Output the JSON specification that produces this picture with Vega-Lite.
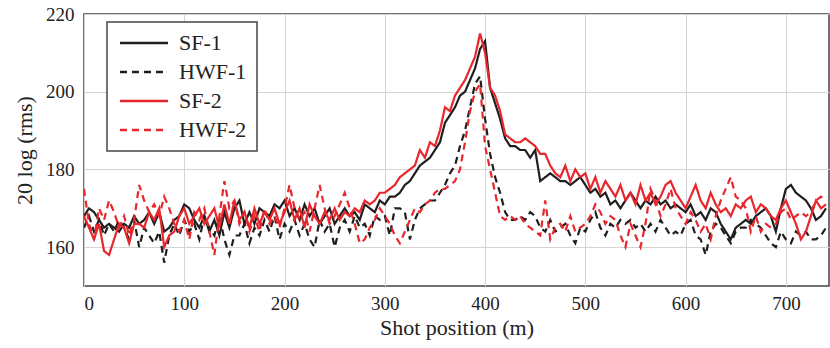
{
"$schema": "https://vega.github.io/schema/vega-lite/v6.json",
"width": 745, "height": 272,
"autosize": {"type": "none"},
"padding": {"left": 84, "top": 14, "right": 1, "bottom": 62},
"background": "white",
"data": {"values": [
{"x":0,"SF-1":168,"HWF-1":165,"SF-2":168,"HWF-2":175},
{"x":5,"SF-1":170,"HWF-1":168,"SF-2":165,"HWF-2":166},
{"x":10,"SF-1":169,"HWF-1":164,"SF-2":162,"HWF-2":162},
{"x":15,"SF-1":167,"HWF-1":167,"SF-2":166,"HWF-2":170},
{"x":20,"SF-1":165,"HWF-1":163,"SF-2":159,"HWF-2":167},
{"x":25,"SF-1":166,"HWF-1":166,"SF-2":158,"HWF-2":172},
{"x":30,"SF-1":165,"HWF-1":164,"SF-2":162,"HWF-2":169},
{"x":35,"SF-1":164,"HWF-1":167,"SF-2":166,"HWF-2":165},
{"x":40,"SF-1":166,"HWF-1":165,"SF-2":165,"HWF-2":168},
{"x":45,"SF-1":165,"HWF-1":162,"SF-2":161,"HWF-2":163},
{"x":50,"SF-1":168,"HWF-1":167,"SF-2":166,"HWF-2":167},
{"x":55,"SF-1":166,"HWF-1":160,"SF-2":166,"HWF-2":176},
{"x":60,"SF-1":167,"HWF-1":165,"SF-2":165,"HWF-2":172},
{"x":65,"SF-1":169,"HWF-1":163,"SF-2":169,"HWF-2":169},
{"x":70,"SF-1":166,"HWF-1":161,"SF-2":167,"HWF-2":171},
{"x":75,"SF-1":169,"HWF-1":164,"SF-2":170,"HWF-2":168},
{"x":80,"SF-1":164,"HWF-1":156,"SF-2":160,"HWF-2":173},
{"x":85,"SF-1":165,"HWF-1":163,"SF-2":163,"HWF-2":170},
{"x":90,"SF-1":167,"HWF-1":166,"SF-2":164,"HWF-2":166},
{"x":95,"SF-1":168,"HWF-1":163,"SF-2":168,"HWF-2":164},
{"x":100,"SF-1":171,"HWF-1":167,"SF-2":170,"HWF-2":167},
{"x":105,"SF-1":170,"HWF-1":164,"SF-2":166,"HWF-2":162},
{"x":110,"SF-1":167,"HWF-1":166,"SF-2":168,"HWF-2":169},
{"x":115,"SF-1":165,"HWF-1":162,"SF-2":170,"HWF-2":167},
{"x":120,"SF-1":168,"HWF-1":168,"SF-2":166,"HWF-2":170},
{"x":125,"SF-1":164,"HWF-1":165,"SF-2":168,"HWF-2":164},
{"x":130,"SF-1":167,"HWF-1":163,"SF-2":170,"HWF-2":158},
{"x":135,"SF-1":163,"HWF-1":168,"SF-2":165,"HWF-2":168},
{"x":140,"SF-1":169,"HWF-1":162,"SF-2":171,"HWF-2":177},
{"x":145,"SF-1":165,"HWF-1":158,"SF-2":166,"HWF-2":170},
{"x":150,"SF-1":170,"HWF-1":163,"SF-2":172,"HWF-2":172},
{"x":155,"SF-1":172,"HWF-1":163,"SF-2":167,"HWF-2":166},
{"x":160,"SF-1":166,"HWF-1":166,"SF-2":169,"HWF-2":169},
{"x":165,"SF-1":169,"HWF-1":161,"SF-2":165,"HWF-2":164},
{"x":170,"SF-1":166,"HWF-1":165,"SF-2":170,"HWF-2":168},
{"x":175,"SF-1":170,"HWF-1":163,"SF-2":166,"HWF-2":164},
{"x":180,"SF-1":169,"HWF-1":167,"SF-2":169,"HWF-2":170},
{"x":185,"SF-1":168,"HWF-1":164,"SF-2":167,"HWF-2":166},
{"x":190,"SF-1":171,"HWF-1":168,"SF-2":170,"HWF-2":168},
{"x":195,"SF-1":170,"HWF-1":162,"SF-2":166,"HWF-2":165},
{"x":200,"SF-1":172,"HWF-1":166,"SF-2":169,"HWF-2":170},
{"x":205,"SF-1":168,"HWF-1":164,"SF-2":172,"HWF-2":176},
{"x":210,"SF-1":170,"HWF-1":167,"SF-2":167,"HWF-2":170},
{"x":215,"SF-1":167,"HWF-1":163,"SF-2":170,"HWF-2":167},
{"x":220,"SF-1":171,"HWF-1":166,"SF-2":165,"HWF-2":169},
{"x":225,"SF-1":168,"HWF-1":162,"SF-2":171,"HWF-2":164},
{"x":230,"SF-1":170,"HWF-1":160,"SF-2":168,"HWF-2":170},
{"x":235,"SF-1":166,"HWF-1":167,"SF-2":166,"HWF-2":176},
{"x":240,"SF-1":168,"HWF-1":164,"SF-2":169,"HWF-2":170},
{"x":245,"SF-1":170,"HWF-1":166,"SF-2":167,"HWF-2":166},
{"x":250,"SF-1":166,"HWF-1":160,"SF-2":170,"HWF-2":168},
{"x":255,"SF-1":168,"HWF-1":165,"SF-2":167,"HWF-2":171},
{"x":260,"SF-1":170,"HWF-1":167,"SF-2":169,"HWF-2":174},
{"x":265,"SF-1":168,"HWF-1":164,"SF-2":168,"HWF-2":170},
{"x":270,"SF-1":169,"HWF-1":168,"SF-2":170,"HWF-2":166},
{"x":275,"SF-1":167,"HWF-1":165,"SF-2":169,"HWF-2":161},
{"x":280,"SF-1":171,"HWF-1":166,"SF-2":172,"HWF-2":162},
{"x":285,"SF-1":170,"HWF-1":163,"SF-2":171,"HWF-2":165},
{"x":290,"SF-1":169,"HWF-1":168,"SF-2":172,"HWF-2":167},
{"x":295,"SF-1":172,"HWF-1":167,"SF-2":174,"HWF-2":170},
{"x":300,"SF-1":171,"HWF-1":168,"SF-2":174,"HWF-2":168},
{"x":305,"SF-1":173,"HWF-1":163,"SF-2":175,"HWF-2":166},
{"x":310,"SF-1":173,"HWF-1":170,"SF-2":176,"HWF-2":163},
{"x":315,"SF-1":174,"HWF-1":170,"SF-2":178,"HWF-2":161},
{"x":320,"SF-1":176,"HWF-1":169,"SF-2":179,"HWF-2":164},
{"x":325,"SF-1":177,"HWF-1":162,"SF-2":180,"HWF-2":167},
{"x":330,"SF-1":179,"HWF-1":167,"SF-2":181,"HWF-2":170},
{"x":335,"SF-1":181,"HWF-1":170,"SF-2":185,"HWF-2":169},
{"x":340,"SF-1":182,"HWF-1":171,"SF-2":183,"HWF-2":171},
{"x":345,"SF-1":183,"HWF-1":172,"SF-2":187,"HWF-2":172},
{"x":350,"SF-1":185,"HWF-1":172,"SF-2":186,"HWF-2":174},
{"x":355,"SF-1":187,"HWF-1":174,"SF-2":190,"HWF-2":175},
{"x":360,"SF-1":192,"HWF-1":176,"SF-2":196,"HWF-2":175},
{"x":365,"SF-1":194,"HWF-1":179,"SF-2":195,"HWF-2":176},
{"x":370,"SF-1":196,"HWF-1":181,"SF-2":199,"HWF-2":177},
{"x":375,"SF-1":199,"HWF-1":186,"SF-2":201,"HWF-2":180},
{"x":380,"SF-1":200,"HWF-1":190,"SF-2":203,"HWF-2":187},
{"x":385,"SF-1":203,"HWF-1":196,"SF-2":206,"HWF-2":195},
{"x":390,"SF-1":206,"HWF-1":202,"SF-2":209,"HWF-2":200},
{"x":395,"SF-1":211,"HWF-1":204,"SF-2":215,"HWF-2":202},
{"x":400,"SF-1":213,"HWF-1":193,"SF-2":210,"HWF-2":186},
{"x":405,"SF-1":201,"HWF-1":184,"SF-2":201,"HWF-2":180},
{"x":410,"SF-1":197,"HWF-1":178,"SF-2":199,"HWF-2":174},
{"x":415,"SF-1":193,"HWF-1":174,"SF-2":195,"HWF-2":168},
{"x":420,"SF-1":188,"HWF-1":169,"SF-2":189,"HWF-2":167},
{"x":425,"SF-1":186,"HWF-1":167,"SF-2":188,"HWF-2":168},
{"x":430,"SF-1":186,"HWF-1":167,"SF-2":187,"HWF-2":167},
{"x":435,"SF-1":185,"HWF-1":168,"SF-2":187,"HWF-2":168},
{"x":440,"SF-1":185,"HWF-1":167,"SF-2":188,"HWF-2":166},
{"x":445,"SF-1":183,"HWF-1":169,"SF-2":187,"HWF-2":165},
{"x":450,"SF-1":185,"HWF-1":168,"SF-2":186,"HWF-2":164},
{"x":455,"SF-1":177,"HWF-1":165,"SF-2":184,"HWF-2":163},
{"x":460,"SF-1":178,"HWF-1":164,"SF-2":184,"HWF-2":172},
{"x":465,"SF-1":179,"HWF-1":167,"SF-2":181,"HWF-2":162},
{"x":470,"SF-1":178,"HWF-1":164,"SF-2":179,"HWF-2":165},
{"x":475,"SF-1":177,"HWF-1":165,"SF-2":178,"HWF-2":166},
{"x":480,"SF-1":177,"HWF-1":166,"SF-2":181,"HWF-2":164},
{"x":485,"SF-1":176,"HWF-1":163,"SF-2":177,"HWF-2":168},
{"x":490,"SF-1":177,"HWF-1":161,"SF-2":180,"HWF-2":164},
{"x":495,"SF-1":178,"HWF-1":165,"SF-2":178,"HWF-2":165},
{"x":500,"SF-1":176,"HWF-1":164,"SF-2":179,"HWF-2":166},
{"x":505,"SF-1":174,"HWF-1":167,"SF-2":175,"HWF-2":168},
{"x":510,"SF-1":175,"HWF-1":169,"SF-2":178,"HWF-2":171},
{"x":515,"SF-1":173,"HWF-1":165,"SF-2":174,"HWF-2":169},
{"x":520,"SF-1":174,"HWF-1":163,"SF-2":177,"HWF-2":166},
{"x":525,"SF-1":171,"HWF-1":166,"SF-2":175,"HWF-2":168},
{"x":530,"SF-1":172,"HWF-1":165,"SF-2":173,"HWF-2":167},
{"x":535,"SF-1":170,"HWF-1":167,"SF-2":176,"HWF-2":163},
{"x":540,"SF-1":172,"HWF-1":166,"SF-2":172,"HWF-2":160},
{"x":545,"SF-1":174,"HWF-1":167,"SF-2":174,"HWF-2":166},
{"x":550,"SF-1":172,"HWF-1":165,"SF-2":171,"HWF-2":163},
{"x":555,"SF-1":170,"HWF-1":166,"SF-2":176,"HWF-2":160},
{"x":560,"SF-1":172,"HWF-1":164,"SF-2":172,"HWF-2":166},
{"x":565,"SF-1":171,"HWF-1":166,"SF-2":174,"HWF-2":175},
{"x":570,"SF-1":173,"HWF-1":164,"SF-2":171,"HWF-2":172},
{"x":575,"SF-1":171,"HWF-1":167,"SF-2":173,"HWF-2":168},
{"x":580,"SF-1":172,"HWF-1":165,"SF-2":176,"HWF-2":171},
{"x":585,"SF-1":170,"HWF-1":163,"SF-2":177,"HWF-2":175},
{"x":590,"SF-1":171,"HWF-1":164,"SF-2":174,"HWF-2":170},
{"x":595,"SF-1":170,"HWF-1":163,"SF-2":172,"HWF-2":168},
{"x":600,"SF-1":169,"HWF-1":166,"SF-2":170,"HWF-2":166},
{"x":605,"SF-1":171,"HWF-1":167,"SF-2":173,"HWF-2":169},
{"x":610,"SF-1":168,"HWF-1":163,"SF-2":176,"HWF-2":167},
{"x":615,"SF-1":169,"HWF-1":162,"SF-2":172,"HWF-2":164},
{"x":620,"SF-1":167,"HWF-1":158,"SF-2":170,"HWF-2":166},
{"x":625,"SF-1":170,"HWF-1":164,"SF-2":174,"HWF-2":162},
{"x":630,"SF-1":169,"HWF-1":166,"SF-2":171,"HWF-2":168},
{"x":635,"SF-1":166,"HWF-1":165,"SF-2":169,"HWF-2":172},
{"x":640,"SF-1":164,"HWF-1":163,"SF-2":170,"HWF-2":175},
{"x":645,"SF-1":162,"HWF-1":161,"SF-2":168,"HWF-2":178},
{"x":650,"SF-1":165,"HWF-1":164,"SF-2":171,"HWF-2":173},
{"x":655,"SF-1":166,"HWF-1":165,"SF-2":170,"HWF-2":172},
{"x":660,"SF-1":167,"HWF-1":165,"SF-2":172,"HWF-2":170},
{"x":665,"SF-1":166,"HWF-1":167,"SF-2":173,"HWF-2":164},
{"x":670,"SF-1":168,"HWF-1":166,"SF-2":169,"HWF-2":168},
{"x":675,"SF-1":169,"HWF-1":165,"SF-2":171,"HWF-2":164},
{"x":680,"SF-1":170,"HWF-1":163,"SF-2":170,"HWF-2":166},
{"x":685,"SF-1":168,"HWF-1":161,"SF-2":168,"HWF-2":165},
{"x":690,"SF-1":164,"HWF-1":160,"SF-2":167,"HWF-2":166},
{"x":695,"SF-1":170,"HWF-1":164,"SF-2":170,"HWF-2":169},
{"x":700,"SF-1":175,"HWF-1":162,"SF-2":172,"HWF-2":170},
{"x":705,"SF-1":176,"HWF-1":161,"SF-2":169,"HWF-2":167},
{"x":710,"SF-1":174,"HWF-1":164,"SF-2":166,"HWF-2":168},
{"x":715,"SF-1":173,"HWF-1":163,"SF-2":162,"HWF-2":169},
{"x":720,"SF-1":172,"HWF-1":164,"SF-2":164,"HWF-2":168},
{"x":725,"SF-1":170,"HWF-1":162,"SF-2":168,"HWF-2":169},
{"x":730,"SF-1":167,"HWF-1":162,"SF-2":172,"HWF-2":172},
{"x":735,"SF-1":168,"HWF-1":163,"SF-2":170,"HWF-2":173},
{"x":740,"SF-1":170,"HWF-1":165,"SF-2":171,"HWF-2":172}
]},
"transform": [{"fold": ["SF-1", "HWF-1", "SF-2", "HWF-2"], "as": ["series", "value"]}],
"mark": {"type": "line", "strokeWidth": 2.2, "clip": true},
"encoding": {
  "x": {"field": "x", "type": "quantitative", "scale": {"domain": [0, 743], "nice": false, "zero": false}, "axis": {"values": [0, 100, 200, 300, 400, 500, 600, 700], "title": "Shot position (m)"}},
  "y": {"field": "value", "type": "quantitative", "scale": {"domain": [150, 220], "nice": false, "zero": false}, "axis": {"values": [160, 180, 200, 220], "title": "20 log (rms)"}},
  "color": {"field": "series", "type": "nominal", "title": null, "scale": {"domain": ["SF-1", "HWF-1", "SF-2", "HWF-2"], "range": ["#1f1f1f", "#1f1f1f", "#e8262b", "#e8262b"]}},
  "strokeDash": {"field": "series", "type": "nominal", "title": null, "scale": {"domain": ["SF-1", "HWF-1", "SF-2", "HWF-2"], "range": [[1, 0], [7, 5], [1, 0], [7, 5]]}}
},
"config": {
  "view": {"stroke": "#444444", "strokeWidth": 1.5},
  "axis": {"grid": true, "gridColor": "#d4d4d4", "gridWidth": 1, "domain": false, "ticks": false, "labelFont": "Liberation Serif", "labelFontSize": 19, "labelColor": "#222222", "titleFont": "Liberation Serif", "titleFontSize": 22, "titleFontWeight": "normal", "titleColor": "#222222"},
  "axisX": {"labelPadding": 8, "titlePadding": 4},
  "axisY": {"labelPadding": 10, "titlePadding": 9},
  "legend": {"orient": "none", "legendX": 23, "legendY": 8, "strokeColor": "#444444", "strokeWidth": 1.5, "fillColor": "white", "padding": 10, "labelFont": "Liberation Serif", "labelFontSize": 22, "labelColor": "#222222", "symbolType": "M-1,0H5", "symbolSize": 256, "symbolStrokeWidth": 2.5, "rowPadding": 7, "labelOffset": 40}
}
}
